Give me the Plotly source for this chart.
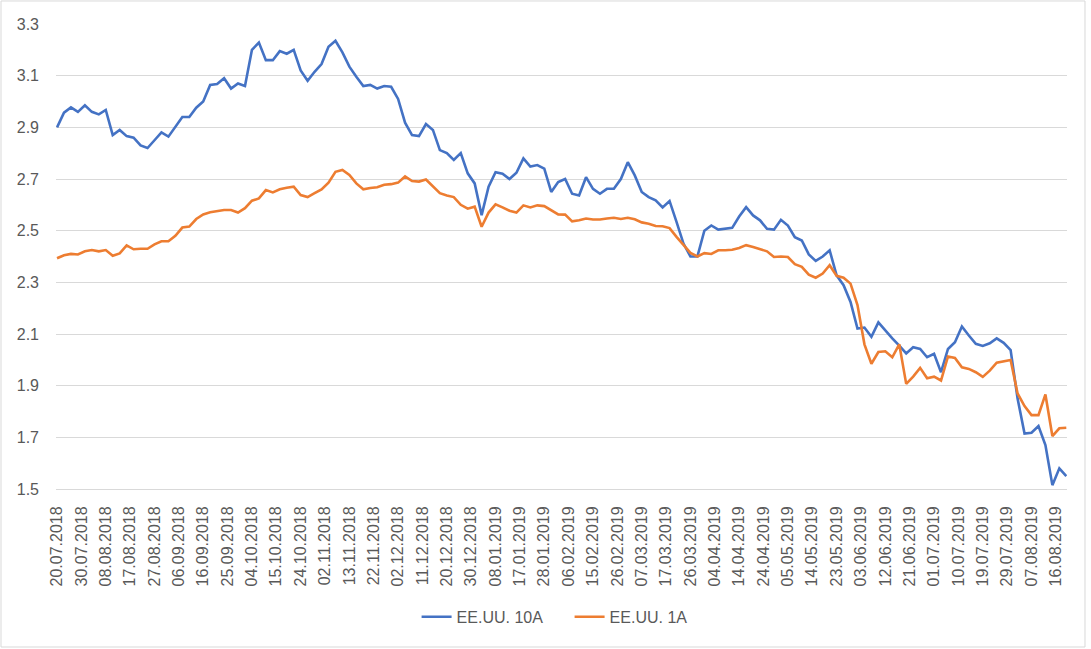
import plotly.graph_objects as go

# tick labels, one every 7 categories
tick_dates = [
    "20.07.2018", "30.07.2018", "08.08.2018", "17.08.2018", "27.08.2018", "06.09.2018",
    "16.09.2018", "25.09.2018", "04.10.2018", "15.10.2018", "24.10.2018", "02.11.2018",
    "13.11.2018", "22.11.2018", "02.12.2018", "11.12.2018", "20.12.2018", "30.12.2018",
    "08.01.2019", "17.01.2019", "28.01.2019", "06.02.2019", "15.02.2019", "26.02.2019",
    "07.03.2019", "17.03.2019", "26.03.2019", "04.04.2019", "14.04.2019", "24.04.2019",
    "05.05.2019", "14.05.2019", "23.05.2019", "03.06.2019", "12.06.2019", "21.06.2019",
    "01.07.2019", "10.07.2019", "19.07.2019", "29.07.2019", "07.08.2019", "16.08.2019",
]

# values read every second observation
us_10y = [
    2.90, 2.957, 2.977, 2.96, 2.985, 2.96, 2.95, 2.967, 2.87, 2.89,
    2.866, 2.86, 2.83, 2.82, 2.85, 2.88, 2.864, 2.90, 2.94, 2.94,
    2.976, 3.00, 3.064, 3.068, 3.09, 3.05, 3.07, 3.06, 3.20, 3.228,
    3.16, 3.16, 3.195, 3.185, 3.20, 3.12, 3.08, 3.115, 3.145, 3.212,
    3.235, 3.19, 3.135, 3.096, 3.06, 3.064, 3.05, 3.06, 3.057, 3.01,
    2.918, 2.87, 2.866, 2.913, 2.89, 2.812, 2.80, 2.774, 2.80, 2.722,
    2.683, 2.56, 2.67, 2.726, 2.72, 2.70, 2.724, 2.78, 2.748, 2.754,
    2.74, 2.65, 2.688, 2.70, 2.643, 2.636, 2.707, 2.662, 2.643, 2.662,
    2.662, 2.70, 2.765, 2.714, 2.65, 2.63, 2.617, 2.59, 2.615, 2.534,
    2.45, 2.40, 2.40, 2.50, 2.52, 2.504, 2.507, 2.511, 2.555, 2.591,
    2.559, 2.54, 2.507, 2.504, 2.542, 2.52, 2.475, 2.462, 2.408, 2.383,
    2.40, 2.424, 2.327, 2.289, 2.224, 2.121, 2.125, 2.089, 2.145, 2.113,
    2.083, 2.055, 2.025, 2.049, 2.042, 2.01, 2.023, 1.952, 2.042, 2.068,
    2.129, 2.094, 2.062, 2.054, 2.064, 2.083, 2.066, 2.038, 1.85, 1.715,
    1.718, 1.744, 1.67, 1.515, 1.58, 1.55,
]

us_1y = [
    2.393, 2.405, 2.41, 2.408, 2.42, 2.425, 2.42, 2.425, 2.403, 2.412,
    2.443, 2.428, 2.43, 2.43, 2.447, 2.459, 2.459, 2.48, 2.512, 2.516,
    2.545, 2.563, 2.571, 2.575, 2.58, 2.58, 2.57, 2.587, 2.616, 2.625,
    2.657, 2.648, 2.66, 2.666, 2.67, 2.638, 2.63, 2.645, 2.66, 2.686,
    2.728, 2.735, 2.716, 2.683, 2.66, 2.665, 2.668, 2.678, 2.68, 2.686,
    2.71, 2.692, 2.69, 2.698, 2.67, 2.645, 2.636, 2.63, 2.60, 2.585,
    2.593, 2.515, 2.57, 2.602, 2.59, 2.577, 2.57, 2.598, 2.59, 2.598,
    2.595, 2.579, 2.563, 2.562, 2.536, 2.54, 2.547, 2.543, 2.543, 2.547,
    2.55, 2.545, 2.55, 2.544, 2.532, 2.527, 2.518, 2.517, 2.51, 2.476,
    2.444, 2.414, 2.40, 2.413, 2.41, 2.424, 2.424, 2.426, 2.433, 2.444,
    2.437, 2.43, 2.42, 2.398, 2.40, 2.398, 2.37, 2.36, 2.33, 2.318,
    2.334, 2.366, 2.325, 2.318, 2.295, 2.212, 2.06, 1.985, 2.03, 2.033,
    2.01, 2.06, 1.907, 1.935, 1.969, 1.929, 1.935, 1.92, 2.013, 2.007,
    1.971, 1.965, 1.952, 1.934, 1.958, 1.989, 1.995, 1.999, 1.87, 1.821,
    1.786, 1.786, 1.866, 1.705, 1.735, 1.737,
]

x = [2 * i for i in range(len(us_10y))]
tick_pos = [7 * i for i in range(len(tick_dates))]

grey = "#595959"
fig = go.Figure()
fig.add_trace(go.Scatter(x=x, y=us_10y, mode="lines", name="EE.UU. 10A",
                         line=dict(color="#4472C4", width=2.6)))
fig.add_trace(go.Scatter(x=x, y=us_1y, mode="lines", name="EE.UU. 1A",
                         line=dict(color="#ED7D31", width=2.6)))

fig.update_layout(
    width=1091, height=649,
    margin=dict(l=56, r=24, t=24, b=160),
    paper_bgcolor="white", plot_bgcolor="white",
    font=dict(family="Liberation Sans, Arial, sans-serif", size=16, color=grey),
    legend=dict(orientation="h", x=0.508, xanchor="center", y=-0.275, yanchor="middle",
                entrywidth=108, font=dict(size=16, color=grey)),
    shapes=[dict(type="rect", xref="paper", yref="paper",
                 x0=-0.0544, x1=1.0178, y0=-0.3398, y1=1.0495,
                 line=dict(color="#d9d9d9", width=1))],
)
fig.update_xaxes(range=[-0.3, 290.2], tickmode="array", tickvals=tick_pos, ticktext=tick_dates,
                 tickangle=-90, showgrid=False, zeroline=False,
                 showline=True, linecolor="#d9d9d9", linewidth=1,
                 ticklabelstandoff=10, tickfont=dict(size=16, color=grey))
fig.update_yaxes(range=[1.5, 3.3], tick0=1.5, dtick=0.2, tickformat=".1f",
                 showgrid=True, gridcolor="#d9d9d9", gridwidth=1, zeroline=False,
                 ticklabelstandoff=16, tickfont=dict(size=16, color=grey))

# drop the default page margin so the chart sits at the top-left corner
fig.write_html("out.html", config={"displayModeBar": False},
               post_script="document.body.style.margin='0';")
